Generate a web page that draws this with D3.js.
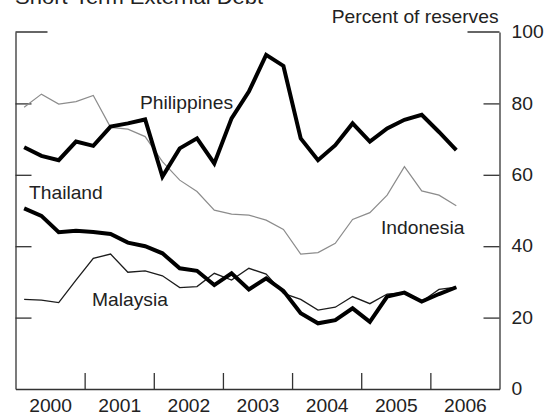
<!DOCTYPE html>
<html><head><meta charset="utf-8">
<script src="https://cdn.jsdelivr.net/npm/d3@7"></script>
<style>
body{margin:0;background:#fff}
svg{display:block;background:#fff}
text{font-family:"Liberation Sans",Arial,sans-serif;fill:#222}
</style>
</head><body>
<svg id="c" width="552" height="420"></svg>
<script>
// ---- data ----
const years = [2000, 2001, 2002, 2003, 2004, 2005, 2006];
const quarterNames = ["Q1", "Q2", "Q3", "Q4"];
const quarters = d3.range(26).map(i => years[Math.floor(i / 4)] + quarterNames[i % 4]);
const yTicks = [0, 20, 40, 60, 80, 100];
const philippines = [67.7, 65.3, 64.1, 69.3, 68.1, 73.5, 74.4, 75.5, 59.5, 67.4, 70.2, 63.2, 75.8, 83.3, 93.6, 90.5, 70.2, 64.1, 68.3, 74.4, 69.3, 73.0, 75.4, 76.8, 72.0, 66.9];
const indonesia   = [78.9, 82.6, 79.8, 80.5, 82.2, 73.3, 72.8, 70.7, 63.7, 58.5, 55.3, 50.1, 49.0, 48.7, 47.3, 44.7, 37.8, 38.2, 40.8, 47.5, 49.4, 54.3, 62.3, 55.5, 54.3, 51.3];
const thailand    = [50.6, 48.5, 43.9, 44.3, 44.0, 43.4, 41.0, 40.0, 38.0, 33.8, 33.1, 29.1, 32.4, 27.9, 31.0, 27.5, 21.2, 18.4, 19.3, 22.6, 18.8, 25.9, 27.0, 24.5, 26.6, 28.5];
const malaysia    = [25.1, 24.9, 24.2, 30.5, 36.6, 37.8, 32.7, 33.1, 31.7, 28.4, 28.7, 32.4, 30.5, 33.8, 32.2, 26.8, 25.1, 22.1, 22.9, 25.9, 23.9, 26.6, 27.0, 24.5, 27.9, 28.5];

// ---- layout ----
const svg = d3.select('#c');
const L = 15.5, R = 499.5, T = 32, B = 389;
const x = d3.scaleLinear().domain([2000, 2007]).range([L, R]);
const y = d3.scaleLinear().domain([0, 100]).range([B, T]);
const qTime = q => +q.slice(0, 4) + (quarterNames.indexOf(q.slice(4)) + 0.5) / 4;
const SX = 1.1;
const axisColor = '#333';

function stretch(sel) {
  sel.each(function () {
    const t = d3.select(this);
    const tx = +t.attr('x') || 0, ty = +t.attr('y') || 0;
    t.attr('x', 0).attr('y', 0).attr('transform', `translate(${tx},${ty}) scale(${SX},1)`);
  });
}
function styleAxis(g) {
  g.selectAll('path,line').attr('stroke', axisColor).attr('stroke-width', 1.3);
  g.selectAll('text').attr('font-size', 17.5).attr('font-family', '"Liberation Sans",Arial,sans-serif').attr('fill', '#222');
}

// right axis with labels
const gR = svg.append('g').attr('transform', `translate(${R},0)`)
  .call(d3.axisRight(y).tickValues(yTicks).tickSizeInner(-16).tickSizeOuter(0).tickPadding(12).tickFormat(d3.format('d')));
styleAxis(gR);
gR.selectAll('.tick').filter(d => d === 0 || d === 100).select('line').remove();
stretch(gR.selectAll('text'));

// left axis, no labels
const gL = svg.append('g').attr('transform', `translate(${L},0)`)
  .call(d3.axisLeft(y).tickValues(yTicks).tickSizeInner(-16).tickSizeOuter(0).tickFormat(''));
styleAxis(gL);
gL.selectAll('.tick').filter(d => d === 0 || d === 100).select('line').remove();

// corner segments at 100
svg.append('line').attr('x1', L).attr('x2', L + 32).attr('y1', y(100)).attr('y2', y(100)).attr('stroke', axisColor).attr('stroke-width', 1.3);
svg.append('line').attr('x1', R - 32).attr('x2', R).attr('y1', y(100)).attr('y2', y(100)).attr('stroke', axisColor).attr('stroke-width', 1.3);

// bottom axis: ticks at year boundaries
const gB = svg.append('g').attr('transform', `translate(0,${B})`)
  .call(d3.axisBottom(x).tickValues(years.slice(1)).tickSizeInner(-16).tickSizeOuter(0).tickFormat(''));
styleAxis(gB);
// year labels centred in each year
const gBL = svg.append('g').attr('transform', `translate(0,${B})`)
  .call(d3.axisBottom(x).tickValues(years.map(v => v + 0.5)).tickSize(0).tickPadding(11).tickFormat(d => String(Math.floor(d))));
gBL.select('.domain').remove();
styleAxis(gBL);
stretch(gBL.selectAll('text'));

// ---- lines ----
const line = d3.line().x((d, i) => x(qTime(quarters[i]))).y(d => y(d));
const series = [
  {name: 'Indonesia', values: indonesia, color: '#8c8c8c', w: 1.2},
  {name: 'Malaysia', values: malaysia, color: '#1c1c1c', w: 1.3},
  {name: 'Philippines', values: philippines, color: '#000', w: 4},
  {name: 'Thailand', values: thailand, color: '#000', w: 4}
];
svg.append('g').selectAll('path').data(series).join('path')
  .attr('d', d => line(d.values))
  .attr('fill', 'none').attr('stroke', d => d.color).attr('stroke-width', d => d.w)
  .attr('stroke-linejoin', 'miter');

// ---- labels ----
const labels = [
  {t: 'Philippines', x: 140, y: 109},
  {t: 'Thailand', x: 29, y: 199},
  {t: 'Malaysia', x: 92, y: 306},
  {t: 'Indonesia', x: 381, y: 234}
];
svg.append('g').selectAll('text').data(labels).join('text')
  .attr('x', d => d.x).attr('y', d => d.y).attr('font-size', 17.5).text(d => d.t)
  .call(stretch);

svg.append('text').attr('x', R - 1).attr('y', 23).attr('text-anchor', 'end').attr('font-size', 17.5)
  .text('Percent of reserves').call(stretch);

svg.append('text').attr('x', 15).attr('y', 4).attr('font-size', 20)
  .text('Short-Term External Debt').call(stretch);
</script>
</body></html>
